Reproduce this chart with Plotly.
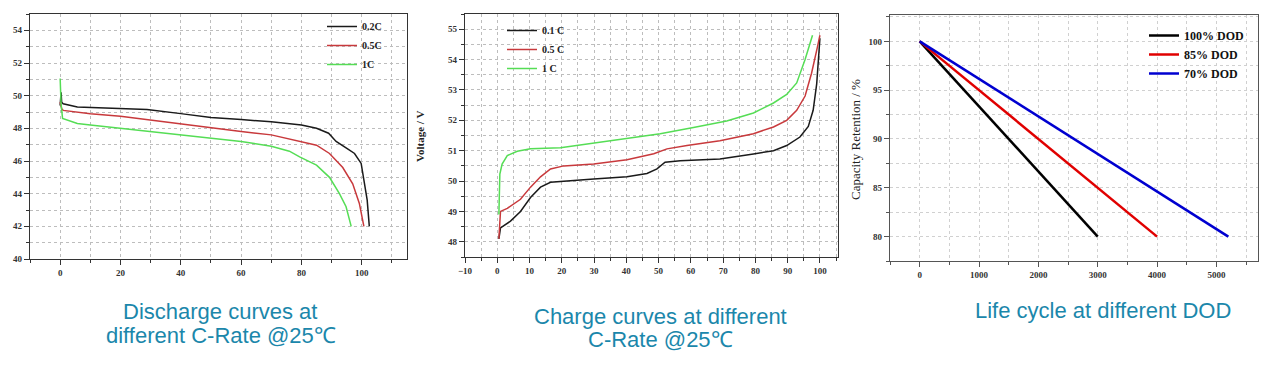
import plotly.graph_objects as go

# ---------------- data ----------------
# Discharge curves (capacity % vs voltage)
dis_x_02 = [0, 0.3, 0.5, 1, 5.7, 20, 28.8, 40, 50, 60, 70, 80, 85, 89, 91.5, 94.8, 97.6, 99.8, 100.9, 101.8, 102.5]
dis_v_02 = [49.4, 50.2, 49.6, 49.5, 49.3, 49.2, 49.15, 48.9, 48.66, 48.54, 48.4, 48.2, 48.0, 47.7, 47.2, 46.8, 46.46, 45.85, 44.6, 43.6, 42.0]
dis_x_05 = [0, 0.5, 1, 10, 20, 30, 40, 50, 60, 70, 80, 85, 89.3, 93.7, 97, 99.2, 100.7]
dis_v_05 = [49.6, 49.2, 49.1, 48.9, 48.74, 48.5, 48.25, 48.0, 47.8, 47.6, 47.2, 46.97, 46.46, 45.6, 44.6, 43.4, 42.0]
dis_x_1 = [0, 0.3, 0.8, 5.7, 10, 20, 30, 40, 50, 60, 70, 76, 79.4, 85, 89.3, 92.6, 94.8, 96.5]
dis_v_1 = [51.05, 49.5, 48.6, 48.3, 48.2, 48.0, 47.8, 47.6, 47.4, 47.2, 46.9, 46.6, 46.25, 45.75, 45.0, 44.0, 43.2, 42.0]
dis_names = ["0.2C", "0.5C", "1C"]

# Charge curves
chg_x_01 = [0.5, 1, 4.1, 7.2, 10.3, 13.4, 16.5, 20.6, 29.9, 40.2, 46.4, 49.5, 52, 56.7, 69, 79.4, 85.6, 89.7, 93.8, 96.4, 97.9, 99, 99.7, 100]
chg_v_01 = [48.1, 48.46, 48.68, 49.0, 49.46, 49.8, 49.96, 50.0, 50.07, 50.14, 50.25, 50.4, 50.62, 50.67, 50.73, 50.89, 51.0, 51.17, 51.45, 51.8, 52.33, 53.2, 54.2, 54.7]
chg_x_05 = [0.5, 1, 3.1, 7.2, 10.3, 13.4, 16.5, 20.6, 29.9, 40.2, 48.5, 52.6, 58.8, 69, 79.4, 85.6, 89.7, 92.8, 95.4, 97.4, 99.2, 100]
chg_v_05 = [48.1, 49.0, 49.1, 49.4, 49.8, 50.14, 50.4, 50.5, 50.56, 50.7, 50.9, 51.06, 51.17, 51.33, 51.56, 51.78, 52.0, 52.33, 52.8, 53.55, 54.4, 54.8]
chg_x_1 = [0.5, 0.8, 1.5, 3.1, 6.2, 10.3, 19.6, 29.9, 40.2, 50.5, 60.8, 71.1, 79.4, 85.6, 89.7, 92.8, 95.4, 97.7]
chg_v_1 = [48.9, 50.23, 50.56, 50.84, 50.98, 51.06, 51.1, 51.25, 51.39, 51.56, 51.76, 51.98, 52.24, 52.57, 52.85, 53.23, 54.0, 54.8]
chg_names = ["0.1 C", "0.5 C", "1 C"]

# Life cycle
life_cycles_100 = [0, 3000]
life_cycles_85 = [0, 4000]
life_cycles_70 = [0, 5200]
life_retention = [100, 80]
life_names = ["100% DOD", "85% DOD", "70% DOD"]

captions = ["Discharge curves at", "different C-Rate @25℃",
            "Charge curves at different", "C-Rate @25℃",
            "Life cycle at different DOD"]

# ---------------- figure ----------------
W, H = 1278, 365
def px(x):
    return x / W
def py(y):
    return 1 - y / H

serif = "Liberation Serif"
tickfont = dict(family=serif, size=9, color="#333333", weight="bold")
legfont = dict(family=serif, size=10, color="#222222", weight="bold")

fig = go.Figure()

dis_colors = ["#1a1a1a", "#c8393c", "#55dd55"]
for xs, vs, nm, c in zip([dis_x_02, dis_x_05, dis_x_1], [dis_v_02, dis_v_05, dis_v_1], dis_names, dis_colors):
    fig.add_trace(go.Scatter(x=xs, y=vs, name=nm, mode="lines", line=dict(color=c, width=1.5),
                             xaxis="x", yaxis="y", legend="legend"))

chg_colors = ["#1a1a1a", "#c8393c", "#55dd55"]
for xs, vs, nm, c in zip([chg_x_01, chg_x_05, chg_x_1], [chg_v_01, chg_v_05, chg_v_1], chg_names, chg_colors):
    fig.add_trace(go.Scatter(x=xs, y=vs, name=nm, mode="lines", line=dict(color=c, width=1.5),
                             xaxis="x2", yaxis="y2", legend="legend2"))

life_colors = ["#000000", "#e00000", "#0000d0"]
for xs, nm, c in zip([life_cycles_100, life_cycles_85, life_cycles_70], life_names, life_colors):
    fig.add_trace(go.Scatter(x=xs, y=life_retention, name=nm, mode="lines", line=dict(color=c, width=2.5),
                             xaxis="x3", yaxis="y3", legend="legend3"))

def ax(domain, anchor, rng, dtick, minor_dtick, linecolor="#333333", grid=True, gridcolor="#bdbdbd"):
    return dict(domain=domain, anchor=anchor, range=rng, dtick=dtick, tick0=0, automargin=False,
                showline=True, mirror=True, linecolor=linecolor, linewidth=1.2,
                ticks="outside", ticklen=5, tickwidth=1, tickcolor=linecolor,
                tickfont=tickfont, zeroline=False,
                showgrid=grid, gridcolor=gridcolor, griddash="dot", gridwidth=1,
                minor=dict(dtick=minor_dtick, ticks="outside", ticklen=3, tickcolor=linecolor,
                           showgrid=grid, gridcolor=gridcolor, griddash="dot", gridwidth=1))

ydom1 = [py(259), py(14)]
ydom2 = [py(257), py(14)]
ydom3 = [py(261), py(15)]

fig.update_layout(
    width=W, height=H, margin=dict(l=0, r=0, t=0, b=0, autoexpand=False),
    paper_bgcolor="white", plot_bgcolor="white",
    xaxis=ax([px(30), px(407)], "y", [-10, 115], 20, 10),
    yaxis=ax(ydom1, "x", [40, 55], 2, 1),
    xaxis2=ax([px(465), px(838)], "y2", [-10, 105.6], 10, 5),
    yaxis2=ax(ydom2, "x2", [47.5, 55.5], 1, 0.5),
    xaxis3=ax([px(890), px(1258)], "y3", [-500, 5700], 1000, 500, linecolor="#555555", gridcolor="#d0d0d0"),
    yaxis3=ax(ydom3, "x3", [77.5, 102.7], 5, 2.5, linecolor="#555555", gridcolor="#d0d0d0"),
    legend=dict(x=px(322), y=py(12), xanchor="left", yanchor="top", font=legfont,
                bgcolor="rgba(0,0,0,0)", tracegroupgap=0, itemwidth=30),
    legend2=dict(x=px(502), y=py(16), xanchor="left", yanchor="top", font=legfont,
                 bgcolor="rgba(0,0,0,0)", tracegroupgap=0, itemwidth=30),
    legend3=dict(x=px(1144), y=py(21), xanchor="left", yanchor="top",
                 font=dict(family=serif, size=12, color="#111111", weight="bold"),
                 bgcolor="rgba(0,0,0,0)", tracegroupgap=0, itemwidth=30),
    showlegend=True,
)

# y axis titles
fig.add_annotation(text="Voltage / V", x=px(420), y=py(137), xref="paper", yref="paper",
                   xanchor="center", yanchor="middle",
                   textangle=-90, showarrow=False,
                   font=dict(family=serif, size=11, color="#222222", weight="bold"))
fig.add_annotation(text="Capacity Retention / %", x=px(855), y=py(140), xref="paper", yref="paper",
                   xanchor="center", yanchor="middle",
                   textangle=-90, showarrow=False,
                   font=dict(family=serif, size=13, color="#222222"))

cap_font = dict(family="Liberation Sans", size=22, color="#1b87ab")
cap_pos = [(220, 311), (221, 335), (660, 316), (660, 339), (1103, 310)]
for txt, (cx, cy) in zip(captions, cap_pos):
    fig.add_annotation(text=txt, x=px(cx), y=py(cy), xref="paper", yref="paper",
                       xanchor="center", yanchor="middle", showarrow=False, font=cap_font)

fig.write_html("out.html", config={"displayModeBar": False},
               post_script="document.body.style.margin='0';document.body.style.overflow='hidden';")
